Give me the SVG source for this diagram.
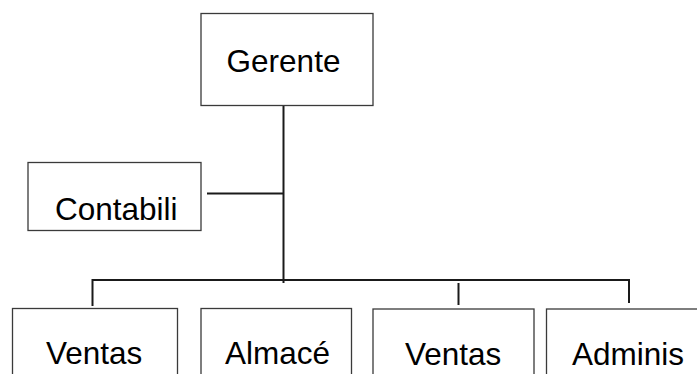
<svg xmlns="http://www.w3.org/2000/svg" width="697" height="374" viewBox="0 0 697 374">
<style>
.box{fill:#fff;stroke:#3a3a3a;stroke-width:1.3}
.t{font-family:"Liberation Sans",Arial,sans-serif;font-size:31.5px;fill:#000}
.c{fill:none;stroke:#1a1a1a;stroke-width:2}
</style>
<rect width="697" height="374" fill="#fff"/>
<g id="connectors">
<line class="c" x1="283.5" y1="105" x2="283.5" y2="283"/>
<line class="c" x1="207" y1="193.5" x2="283.5" y2="193.5"/>
<polyline class="c" points="92.5,306 92.5,280 629,280 629,303"/>
<line class="c" x1="458.5" y1="283" x2="458.5" y2="305"/>
</g>
<g id="gerente"><rect class="box" x="201" y="13.5" width="172" height="92"/><text class="t" x="283.5" y="72" text-anchor="middle">Gerente</text></g>
<g id="contabili"><rect class="box" x="28" y="162.5" width="173" height="68"/><text class="t" x="55" y="220">Contabili</text></g>
<g id="ventas1"><rect class="box" x="12.5" y="308.5" width="165" height="80"/><text class="t" x="46" y="363.5">Ventas</text></g>
<g id="almace"><rect class="box" x="201" y="308.5" width="150.5" height="80"/><text class="t" x="225" y="363.5">Almacé</text></g>
<g id="ventas2"><rect class="box" x="373" y="309" width="161" height="80"/><text class="t" x="405" y="365">Ventas</text></g>
<g id="adminis"><rect class="box" x="546.5" y="309" width="160" height="80"/><text class="t" x="572" y="365">Adminis</text></g>
</svg>
